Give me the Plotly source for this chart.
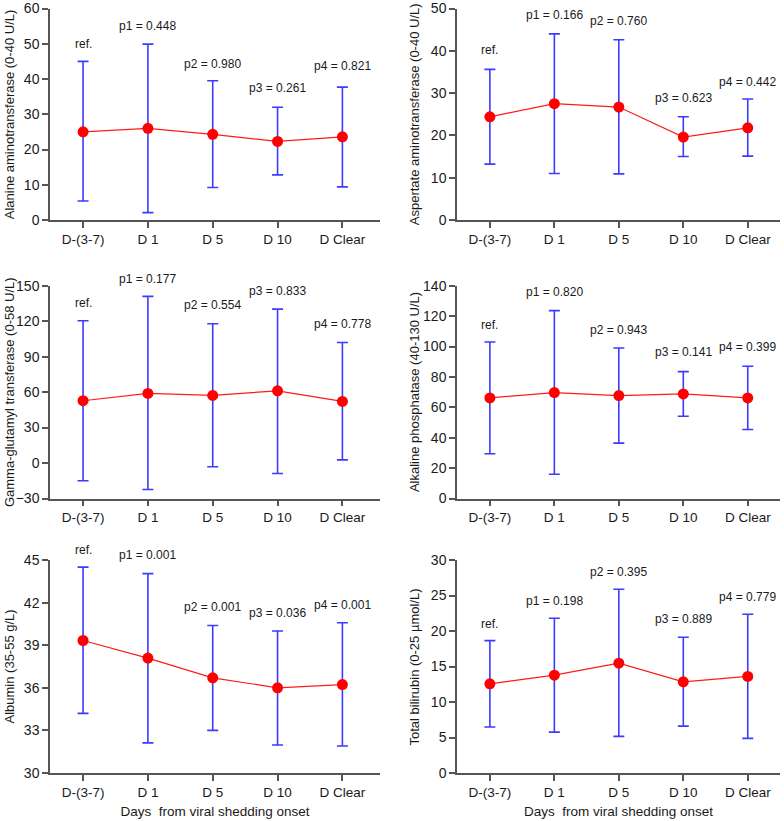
import plotly.graph_objects as go

W, H = 784, 821

categories = ["D-(3-7)", "D 1", "D 5", "D 10", "D Clear"]

# Panel 1: ALT
alt_mean = [25.0, 26.0, 24.3, 22.3, 23.6]
alt_upper = [45.0, 49.9, 39.5, 32.0, 37.7]
alt_lower = [5.4, 2.1, 9.2, 12.8, 9.4]
alt_text = ["ref.", "p1 = 0.448", "p2 = 0.980", "p3 = 0.261", "p4 = 0.821"]
alt_text_y = [50.0, 55.0, 44.2, 37.4, 43.7]

# Panel 2: AST
ast_mean = [24.4, 27.5, 26.7, 19.6, 21.8]
ast_upper = [35.6, 44.0, 42.6, 24.4, 28.6]
ast_lower = [13.2, 11.0, 10.9, 15.0, 15.1]
ast_text = ["ref.", "p1 = 0.166", "p2 = 0.760", "p3 = 0.623", "p4 = 0.442"]
ast_text_y = [40.3, 48.4, 47.1, 28.8, 32.7]

# Panel 3: GGT
ggt_mean = [52.7, 58.9, 57.2, 61.1, 52.1]
ggt_upper = [120.4, 141.0, 117.8, 130.2, 102.0]
ggt_lower = [-15.0, -22.4, -3.2, -8.9, 2.7]
ggt_text = ["ref.", "p1 = 0.177", "p2 = 0.554", "p3 = 0.833", "p4 = 0.778"]
ggt_text_y = [135.0, 155.4, 133.6, 145.8, 117.3]

# Panel 4: ALP
alp_mean = [66.2, 69.7, 67.7, 68.8, 66.2]
alp_upper = [103.0, 123.6, 99.0, 83.5, 87.0]
alp_lower = [29.4, 16.0, 36.4, 54.1, 45.4]
alp_text = ["ref.", "p1 = 0.820", "p2 = 0.943", "p3 = 0.141", "p4 = 0.399"]
alp_text_y = [114.2, 136.0, 110.9, 96.2, 99.5]

# Panel 5: Albumin
alb_mean = [39.33, 38.09, 36.7, 36.0, 36.23]
alb_upper = [44.5, 44.04, 40.39, 40.0, 40.58]
alb_lower = [34.2, 32.12, 33.0, 31.97, 31.9]
alb_text = ["ref.", "p1 = 0.001", "p2 = 0.001", "p3 = 0.036", "p4 = 0.001"]
alb_text_y = [45.7, 45.35, 41.7, 41.3, 41.8]

# Panel 6: Total bilirubin
tb_mean = [12.56, 13.78, 15.47, 12.84, 13.6]
tb_upper = [18.65, 21.8, 25.87, 19.12, 22.36]
tb_lower = [6.47, 5.76, 5.16, 6.6, 4.87]
tb_text = ["ref.", "p1 = 0.198", "p2 = 0.395", "p3 = 0.889", "p4 = 0.779"]
tb_text_y = [21.0, 24.2, 28.36, 21.66, 24.84]

y_titles = [
    "Alanine aminotransferase (0-40 U/L)",
    "Aspertate aminotransferase (0-40 U/L)",
    "Gamma-glutamyl transferase (0-58 U/L)",
    "Alkaline phosphatase (40-130 U/L)",
    "Albumin (35-55 g/L)",
    "Total bilirubin (0-25 \u00b5mol/L)",
]
x_title = "Days  from viral shedding onset"

panels = [
    (alt_mean, alt_upper, alt_lower, alt_text, alt_text_y, [0, 60], 10),
    (ast_mean, ast_upper, ast_lower, ast_text, ast_text_y, [0, 50], 10),
    (ggt_mean, ggt_upper, ggt_lower, ggt_text, ggt_text_y, [-30, 150], 30),
    (alp_mean, alp_upper, alp_lower, alp_text, alp_text_y, [0, 140], 20),
    (alb_mean, alb_upper, alb_lower, alb_text, alb_text_y, [30, 45], 3),
    (tb_mean, tb_upper, tb_lower, tb_text, tb_text_y, [0, 30], 5),
]

# pixel layout (left, right, top, bottom)
col_x = [(50, 380), (457, 780)]
row_y = [(8.5, 220), (285.7, 498.5), (560, 773)]
title_x = [9, 414]

FONT = "Liberation Sans, Arial, sans-serif"
TXT = "#1a1a1a"
AX = "#555555"

fig = go.Figure()
layout = {}
annotations = []

for i, (mean, up, lo, txt, ty, yr, dt) in enumerate(panels):
    r, c = divmod(i, 2)
    n = i + 1
    xa = "x" if n == 1 else f"x{n}"
    ya = "y" if n == 1 else f"y{n}"
    xl, xr = col_x[c]
    yt, yb = row_y[r]
    xrange = [-0.51, 4.5 + (0.08 if c == 0 else 0)]
    err_plus = [u - m for u, m in zip(up, mean)]
    err_minus = [m - l for m, l in zip(mean, lo)]
    fig.add_trace(go.Scatter(
        x=list(range(len(categories))), y=mean, xaxis=xa, yaxis=ya,
        mode="lines+markers",
        line=dict(color="#ff1a1a", width=1.2),
        marker=dict(color="#ff0000", size=11),
        error_y=dict(type="data", symmetric=False, array=err_plus, arrayminus=err_minus,
                     color="#3b3bff", thickness=1.6, width=5.5),
        showlegend=False, cliponaxis=False,
    ))
    for k in range(len(categories)):
        annotations.append(dict(
            x=(k - xrange[0]) / (xrange[1] - xrange[0]), y=(ty[k] - yr[0]) / (yr[1] - yr[0]),
            xref=f"{xa} domain", yref=f"{ya} domain", text=txt[k], showarrow=False,
            xanchor="center", yanchor="middle",
            font=dict(family=FONT, size=12, color=TXT)))
    ticks = []
    v = yr[0]
    while v <= yr[1] + 1e-9:
        ticks.append(v)
        v += dt
    layout["xaxis" if n == 1 else f"xaxis{n}"] = dict(
        domain=[xl / W, xr / W], anchor=ya, range=xrange,
        tickmode="array", tickvals=list(range(5)), ticktext=categories,
        showline=True, linecolor=AX, linewidth=1.5, ticks="outside", ticklen=6, tickwidth=1.5,
        tickcolor=AX, showgrid=False, zeroline=False, ticklabeloverflow="allow",
        tickfont=dict(family=FONT, size=13.5, color=TXT),
        title=dict(text=x_title if r == 2 else "", font=dict(family=FONT, size=13.5, color=TXT), standoff=8),
        fixedrange=True,
    )
    layout["yaxis" if n == 1 else f"yaxis{n}"] = dict(
        domain=[(H - yb) / H, (H - yt) / H], anchor=xa, range=yr,
        tickmode="array", tickvals=ticks,
        showline=True, linecolor=AX, linewidth=1.5, ticks="outside", ticklen=6, tickwidth=1.5,
        tickcolor=AX, showgrid=False, zeroline=False, ticklabeloverflow="allow",
        tickfont=dict(family=FONT, size=14, color=TXT),
        fixedrange=True,
    )
    annotations.append(dict(
        x=title_x[c] / W, y=(H - (yt + yb) / 2) / H, xref="paper", yref="paper",
        text=y_titles[i], textangle=-90, showarrow=False, xanchor="center", yanchor="middle",
        font=dict(family=FONT, size=13, color=TXT)))

fig.update_layout(
    width=W, height=H, margin=dict(l=0, r=0, t=0, b=0, autoexpand=False),
    paper_bgcolor="white", plot_bgcolor="white",
    annotations=annotations, **layout,
)

fig.write_html("out.html", config={"displayModeBar": False},
               post_script="document.body.style.margin='0';document.body.style.overflow='hidden';")
